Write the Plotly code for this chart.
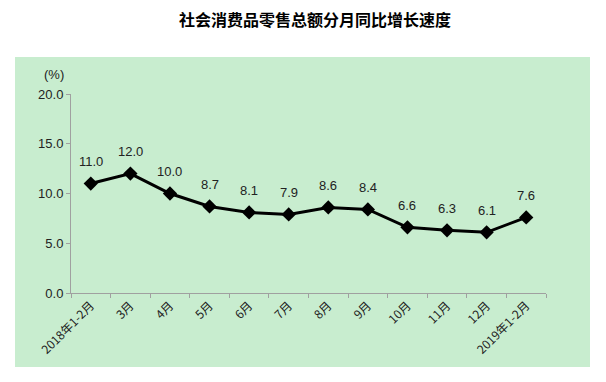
import plotly.graph_objects as go

categories = ["2018年1-2月", "3月", "4月", "5月", "6月", "7月", "8月", "9月", "10月", "11月", "12月", "2019年1-2月"]
values = [11.0, 12.0, 10.0, 8.7, 8.1, 7.9, 8.6, 8.4, 6.6, 6.3, 6.1, 7.6]
y_ticks = [0, 5, 10, 15, 20]
title_text = "社会消费品零售总额分月同比增长速度"

OFF = 8  # page body margin
W, H = 606 - OFF, 382 - OFF
L, R, T, B = 71 - OFF, 60, 94 - OFF, 89
PW, PH = W - L - R, H - T - B
font_family = "Liberation Sans, Noto Sans CJK SC, sans-serif"


def px_x(x):
    return (x - OFF - L) / PW


def px_y(y):
    return (H - B - (y - OFF)) / PH


fig = go.Figure()
fig.add_trace(go.Scatter(
    x=categories, y=values, mode="lines+markers",
    line=dict(color="black", width=3),
    marker=dict(symbol="diamond", size=11, color="black"),
    cliponaxis=False,
    hoverinfo="skip",
))

for c, v in zip(categories, values):
    fig.add_annotation(x=c, y=v, text=f"{v:.1f}", showarrow=False, yshift=22,
                       font=dict(size=13, color="#222", family=font_family))

fig.add_shape(type="rect", xref="paper", yref="paper",
              x0=px_x(15), x1=px_x(590), y0=px_y(367), y1=px_y(57),
              fillcolor="#C8EDCF", line=dict(width=0), layer="below")

fig.add_annotation(text="(%)", xref="paper", yref="paper",
                   x=px_x(54), y=px_y(75), xanchor="center", yanchor="middle",
                   showarrow=False, font=dict(size=13, color="#222", family=font_family))

fig.add_annotation(text="<b>" + title_text + "</b>", xref="paper", yref="paper",
                   x=px_x(315), y=px_y(19), xanchor="center", yanchor="middle",
                   showarrow=False,
                   font=dict(size=16, color="black", family="Noto Sans CJK SC, sans-serif"))

fig.update_layout(
    width=W, height=H,
    margin=dict(l=L, r=R, t=T, b=B),
    paper_bgcolor="white", plot_bgcolor="rgba(0,0,0,0)",
    showlegend=False,
    font=dict(family=font_family, size=12, color="#222"),
)
fig.update_xaxes(type="category", range=[-0.5, len(categories) - 0.5],
                 showline=True, linecolor="#a0a0a0", linewidth=1,
                 ticks="outside", tickson="boundaries", ticklen=4, tickcolor="#a0a0a0",
                 tickangle=-45, showgrid=False, zeroline=False,
                 tickfont=dict(size=12, family="Noto Sans CJK SC, sans-serif", color="#222"))
fig.update_yaxes(range=[0, 20], tickvals=y_ticks, tickformat=".1f",
                 showline=True, linecolor="#a0a0a0", linewidth=1,
                 ticks="outside", ticklen=4, tickcolor="#a0a0a0",
                 showgrid=False, zeroline=False,
                 tickfont=dict(size=13, family=font_family, color="#222"))

fig.write_html("out.html")
